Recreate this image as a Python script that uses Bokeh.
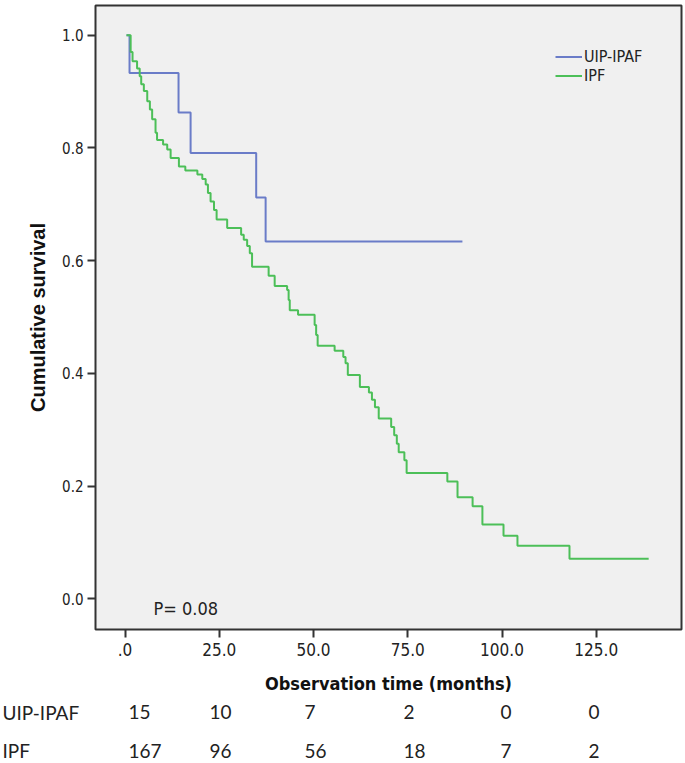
from bokeh.plotting import figure
from bokeh.layouts import column
from bokeh.models import Range1d, FixedTicker, Legend, LegendItem, Label, ColumnDataSource
from bokeh.core.properties import value
from bokeh.embed import file_html
from bokeh.resources import INLINE

# ---------------- data ----------------
uip_time = [0.4, 1.2, 14.2, 17.4, 34.8, 37.3, 89.5]
uip_surv = [1.0, 0.933, 0.863, 0.791, 0.712, 0.634, 0.634]

ipf_time = [0.4, 1.5, 2.0, 3.2, 3.9, 4.3, 5.0, 5.9, 6.6, 7.2, 8.1, 8.5, 10.1, 11.2, 12.1,
            14.3, 16.0, 19.2, 20.5, 21.4, 22.0, 22.7, 23.6, 24.3, 27.1, 30.8, 31.5, 32.4,
            33.1, 33.7, 38.1, 39.7, 43.0, 43.4, 43.7, 45.9, 50.3, 50.7, 51.1, 55.6, 57.9,
            58.5, 59.1, 62.3, 64.7, 65.5, 66.3, 67.3, 70.6, 71.4, 72.1, 72.6, 74.1, 74.7,
            85.5, 88.2, 92.2, 94.8, 100.4, 104.1, 117.9, 138.9]
ipf_surv = [1.0, 0.970, 0.954, 0.941, 0.927, 0.913, 0.901, 0.883, 0.868, 0.851, 0.827,
            0.814, 0.806, 0.797, 0.782, 0.767, 0.760, 0.753, 0.745, 0.735, 0.720, 0.705,
            0.690, 0.673, 0.658, 0.646, 0.637, 0.626, 0.613, 0.589, 0.573, 0.555, 0.548,
            0.530, 0.512, 0.504, 0.486, 0.468, 0.449, 0.440, 0.429, 0.418, 0.397, 0.376,
            0.366, 0.353, 0.340, 0.320, 0.305, 0.290, 0.275, 0.260, 0.246, 0.223, 0.208,
            0.180, 0.164, 0.132, 0.112, 0.094, 0.071, 0.071]

x_ticks = [0, 25, 50, 75, 100, 125]
x_tick_labels = [".0", "25.0", "50.0", "75.0", "100.0", "125.0"]
y_ticks = [0.0, 0.2, 0.4, 0.6, 0.8, 1.0]
y_tick_labels = ["0.0", "0.2", "0.4", "0.6", "0.8", "1.0"]

series_names = ["UIP-IPAF", "IPF"]
risk_times = [0, 25, 50, 75, 100, 125]
risk_uip = [15, 10, 7, 2, 0, 0]
risk_ipf = [167, 96, 56, 18, 7, 2]
p_value_text = "P= 0.08"

# ---------------- styles ----------------
NARROW = "'Liberation Sans Narrow', 'DejaVu Sans Condensed', sans-serif"
TABLE_FONT = "Lato"
BLUE = "#6a7cc8"
GREEN = "#4cbf58"
DARK = "#333333"
W = 685
X_RANGE = (-7.825, 147.61)
PX_PER_T = 3.77
T0_PX = 124.5

p = figure(width=W, height=701, output_backend="svg", toolbar_location=None,
           x_range=Range1d(*X_RANGE), y_range=Range1d(-0.05447, 1.0527),
           min_border_left=95, min_border_right=4, min_border_top=5, min_border_bottom=72,
           background_fill_color="#f0f0f0", border_fill_color="white",
           outline_line_color=DARK, outline_line_width=2, frame_align=False)
p.grid.visible = False

r_uip = p.step(uip_time, uip_surv, mode="after", line_color=BLUE, line_width=2)
r_ipf = p.step(ipf_time, ipf_surv, mode="after", line_color=GREEN, line_width=2)

for ax in (p.xaxis[0], p.yaxis[0]):
    ax.axis_line_color = None
    ax.major_tick_in = 0
    ax.major_tick_out = 8
    ax.minor_tick_line_color = None
    ax.major_tick_line_color = DARK
    ax.major_tick_line_width = 2
    ax.major_label_text_font = NARROW
    ax.major_label_text_color = "#222222"

p.xaxis.ticker = FixedTicker(ticks=x_ticks)
p.xaxis.major_label_overrides = dict(zip(x_ticks, x_tick_labels))
p.xaxis.major_label_text_font_size = "17px"
p.xaxis.major_label_standoff = 5
p.xaxis.axis_label = "Observation time (months)"
p.xaxis.axis_label_text_font = NARROW
p.xaxis.axis_label_text_font_style = "bold"
p.xaxis.axis_label_text_font_size = "18px"
p.xaxis.axis_label_text_color = "#111111"
p.xaxis.axis_label_standoff = 14

p.yaxis.ticker = FixedTicker(ticks=y_ticks)
p.yaxis.major_label_overrides = dict(zip(y_ticks, y_tick_labels))
p.yaxis.major_label_text_font_size = "15px"
p.yaxis.major_label_standoff = 4
p.yaxis.axis_label = "Cumulative survival"
p.yaxis.axis_label_text_font = "Liberation Sans"
p.yaxis.axis_label_text_font_style = "bold"
p.yaxis.axis_label_text_font_size = "20px"
p.yaxis.axis_label_text_color = "#111111"
p.yaxis.axis_label_standoff = 10

legend = Legend(items=[LegendItem(label=series_names[0], renderers=[r_uip]),
                       LegendItem(label=series_names[1], renderers=[r_ipf])],
                location=(460, 544), padding=0, margin=0, spacing=0,
                glyph_width=27, glyph_height=19, label_height=19, label_standoff=2,
                border_line_color=None, background_fill_alpha=0,
                label_text_font=NARROW, label_text_font_size="16px",
                label_text_color="#222222")
p.add_layout(legend)

p.add_layout(Label(x=58, y=21, x_units="screen", y_units="screen", text=p_value_text,
                   text_font=NARROW, text_font_size="18px", text_baseline="middle",
                   text_color="#222222"))

# ---------------- number-at-risk table ----------------
TH = 62
t_start = -T0_PX / PX_PER_T
t_end = (W - T0_PX) / PX_PER_T
tbl = figure(width=W, height=TH, output_backend="svg", toolbar_location=None,
             x_range=Range1d(t_start, t_end), y_range=Range1d(-0.3394, 1.2794),
             min_border_left=0, min_border_right=0, min_border_top=0, min_border_bottom=0,
             outline_line_color=None, background_fill_color="white", border_fill_color="white",
             frame_align=False)
tbl.axis.visible = False
tbl.grid.visible = False

col_offsets = [3.5, -9.75, -9.0, -4.25, -1.5, -7.75]
row_index = [1, 0]
xs, ys, txt, offs = [], [], [], []
for counts, ri in zip([risk_uip, risk_ipf], row_index):
    for t, c, off in zip(risk_times, counts, col_offsets):
        xs.append(t); ys.append(ri); txt.append(str(c)); offs.append(off)
tbl.text(x="x", y="y", text="text", x_offset="off",
         source=ColumnDataSource(dict(x=xs, y=ys, text=txt, off=offs)),
         text_font=value(TABLE_FONT), text_font_size="19px", text_align="left",
         text_baseline="middle", text_color="#222222")
tbl.text(x=[t_start, t_start], y=row_index, text=series_names, x_offset=2,
         text_font=value(TABLE_FONT), text_font_size="19px", text_align="left",
         text_baseline="middle", text_color="#222222")

layout = column(p, tbl, spacing=0)
open("out.html", "w").write(file_html(layout, INLINE))
